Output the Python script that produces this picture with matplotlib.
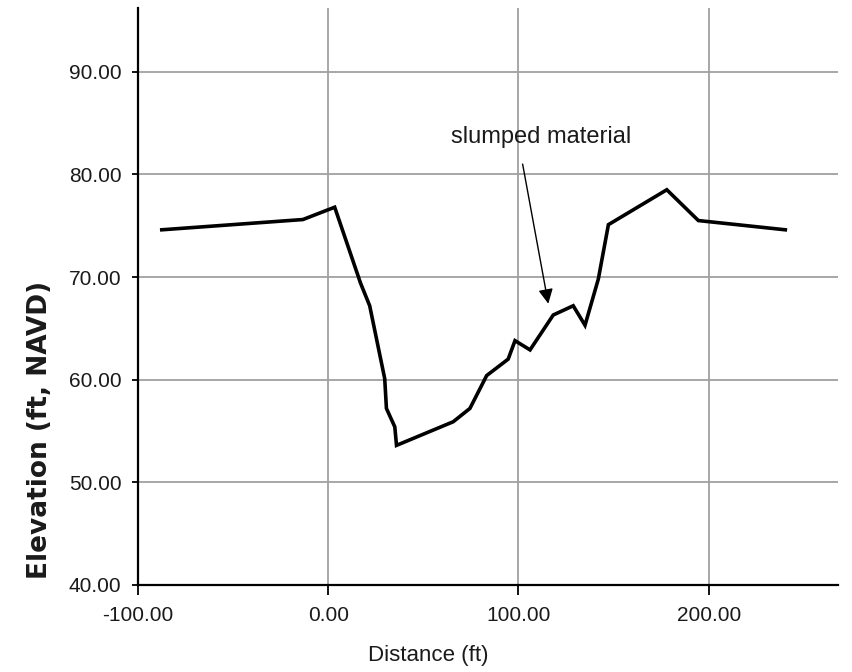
import matplotlib
matplotlib.use('Agg')
import matplotlib.pyplot as plt

plt.rcParams['font.family'] = ['Liberation Sans', 'DejaVu Sans']

# Channel cross-section
distance = [-87.5, -13.3, 3.4, 17.0, 21.8, 29.7, 30.6, 35.0, 35.9, 65.7, 74.5,
            83.3, 94.6, 98.2, 106.1, 118.3, 128.8, 135.0, 142.0, 147.3, 178.0,
            194.6, 240.3]
elevation = [74.6, 75.6, 76.8, 69.4, 67.2, 60.1, 57.2, 55.4, 53.6, 55.9, 57.2,
             60.4, 62.0, 63.8, 62.9, 66.3, 67.2, 65.3, 69.8, 75.1, 78.5,
             75.5, 74.6]

x_ticks = [-100, 0, 100, 200]
y_ticks = [40, 50, 60, 70, 80, 90]

note_text = 'slumped material'
note_pos = (112.0, 83.6)
arrow_tail = (102.2, 81.0)
arrow_head = (115.7, 67.4)

fig = plt.figure(figsize=(8.53, 6.72), dpi=100)
ax = fig.add_axes([0.1618, 0.1295, 0.8206, 0.8585])

ax.plot(distance, elevation, color='black', lw=2.6, solid_joinstyle='miter')

ax.set_xlim(-100, 268)
ax.set_ylim(40, 96.2)
ax.set_xticks(x_ticks)
ax.set_yticks(y_ticks)
ax.set_xticklabels(['%.2f' % v for v in x_ticks])
ax.set_yticklabels(['%.2f' % v for v in y_ticks])

ax.grid(True, color='#a0a0a0', lw=1.3)
ax.set_axisbelow(True)
for s in ['top', 'right']:
    ax.spines[s].set_visible(False)
for s in ['left', 'bottom']:
    ax.spines[s].set_linewidth(1.6)
    ax.spines[s].set_color('black')

ax.tick_params(axis='x', length=7, width=1.3, pad=8, labelsize=15, colors='#1a1a1a')
ax.tick_params(axis='y', length=4, width=1.3, pad=8, labelsize=15, colors='#1a1a1a')
ax.tick_params(axis='both', color='black')

ax.annotate('', xy=arrow_head, xytext=arrow_tail,
            arrowprops=dict(arrowstyle='-|>', color='black', lw=1.0,
                            mutation_scale=22, shrinkA=0, shrinkB=0))
ax.text(note_pos[0], note_pos[1], note_text, ha='center', va='center',
        fontsize=17, color='#1a1a1a')

fig.text(428 / 853, 1 - 655 / 672, 'Distance (ft)', ha='center', va='center',
         fontsize=16, color='#1a1a1a')
fig.text(40 / 853, 1 - 430 / 672, 'Elevation (ft, NAVD)', ha='center', va='center',
         rotation=90, fontsize=19, fontweight='bold', family=['DejaVu Sans'],
         color='#1a1a1a')

fig.savefig('out.png', dpi=100)
